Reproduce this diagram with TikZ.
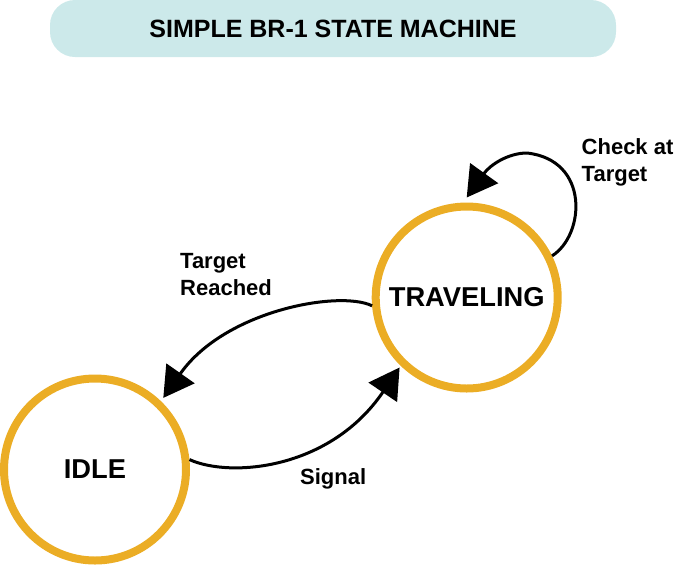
\documentclass[tikz,border=0pt]{standalone}
\usepackage{fontspec}
\setmainfont{Liberation Sans}
\usetikzlibrary{arrows.meta}
\definecolor{stateorange}{HTML}{EBAD25}
\definecolor{titleteal}{HTML}{CCE9EA}
\begin{document}
\begin{tikzpicture}[x=1pt,y=-1pt,
  state/.style={circle, draw=stateorange, line width=8pt, minimum size=182pt, inner sep=0pt, font=\fontsize{27.3}{30}\selectfont\bfseries},
  trans/.style={line width=3pt, -{Triangle[length=30pt,width=34pt]}},
  lbl/.style={anchor=north west, inner sep=0pt, align=left, font=\fontsize{22}{27.5}\selectfont\bfseries},
  titlebox/.style={fill=titleteal, rounded corners=25pt, minimum width=566pt, minimum height=57pt, inner sep=0pt, font=\fontsize{25}{28}\selectfont\bfseries}]
\useasboundingbox (0,0) rectangle (674,566);
\node[titlebox] (title) at (333,28.5) {SIMPLE BR-1 STATE MACHINE};
\node[state] (trav) at (466.7,297.5) {TRAVELING};
\node[state] (idle) at (95,469.5) {IDLE};
\draw[trans] (trav.26.6) .. controls (585,235) and (590,160) .. (527,153) .. controls (508,153) and (490,165) .. ([yshift=5pt]trav.90);
\draw[trans, shorten >=4pt] (trav.185) .. controls (340,290) and (225,310) .. (idle.46.8);
\draw[trans, shorten >=2pt] (idle.6.6) .. controls (230,478) and (330,470) .. (trav.226.3);
\node[lbl] (lreached) at (180,253) {Target\\Reached};
\node[lbl] (lcheck) at (581.5,138) {Check at\\Target};
\node[lbl] (lsignal) at (300,468) {Signal};
\end{tikzpicture}
\end{document}
